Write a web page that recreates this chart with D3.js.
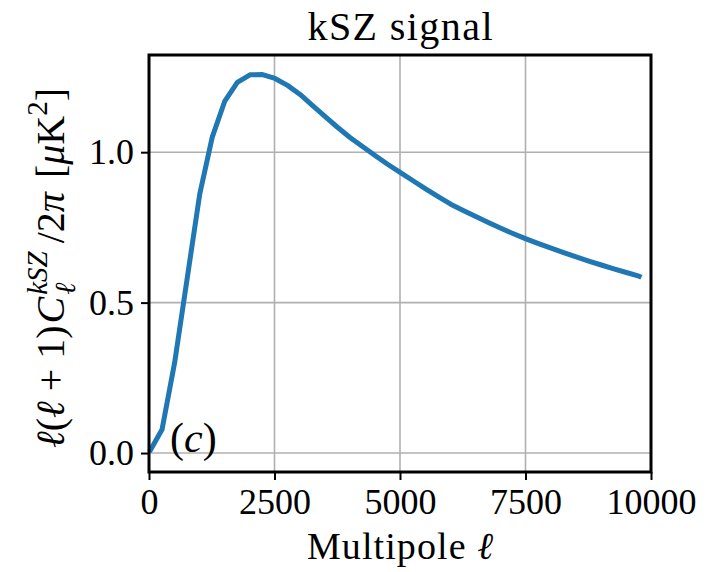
<!DOCTYPE html>
<html>
<head>
<meta charset="utf-8">
<script src="https://cdn.jsdelivr.net/npm/d3@7"></script>
<style>
  body { margin: 0; background: #fff; }
  text { font-family: "Liberation Serif", "DejaVu Serif", serif; }
</style>
</head>
<body>
<svg id="chart"></svg>
<script>
// Data
const ell = [10, 260, 510, 760, 1010, 1260, 1510, 1760, 2010, 2260, 2510, 2760, 3010, 3260, 3510,
             3760, 4010, 4260, 4510, 4760, 5010, 5260, 5510, 5760, 6010, 6260, 6510, 6760, 7010,
             7260, 7510, 7760, 8010, 8260, 8510, 8760, 9010, 9260, 9510, 9760, 9810];
const ksz = [0.004, 0.078, 0.30, 0.58, 0.86, 1.05, 1.17, 1.232, 1.257, 1.258, 1.245, 1.222, 1.192, 1.155, 1.118,
             1.082, 1.048, 1.018, 0.988, 0.959, 0.932, 0.905, 0.878, 0.852, 0.827, 0.806, 0.786, 0.766, 0.747,
             0.729, 0.712, 0.696, 0.681, 0.666, 0.652, 0.638, 0.625, 0.612, 0.600, 0.588, 0.584];
const xTicks = [0, 2500, 5000, 7500, 10000];
const yTicks = [0.0, 0.5, 1.0];

const width = 717, height = 572;
const margin = {left: 149, right: 66, top: 55, bottom: 100};

const svg = d3.select("#chart").attr("width", width).attr("height", height);

const x = d3.scaleLinear().domain([0, 10000]).range([margin.left, width - margin.right]);
const y = d3.scaleLinear().domain([-0.063, 1.323]).range([height - margin.bottom, margin.top]);

// grid
svg.append("g")
    .selectAll("line")
    .data(xTicks)
    .join("line")
    .attr("x1", d => x(d)).attr("x2", d => x(d))
    .attr("y1", y.range()[0]).attr("y2", y.range()[1])
    .attr("stroke", "#b0b0b0").attr("stroke-width", 1.6);
svg.append("g")
    .selectAll("line")
    .data(yTicks)
    .join("line")
    .attr("y1", d => y(d)).attr("y2", d => y(d))
    .attr("x1", x.range()[0]).attr("x2", x.range()[1])
    .attr("stroke", "#b0b0b0").attr("stroke-width", 1.6);

// data line
const line = d3.line().x((d, i) => x(ell[i])).y(d => y(d));
svg.append("path")
    .datum(ksz)
    .attr("d", line)
    .attr("fill", "none")
    .attr("stroke", "#1f77b4")
    .attr("stroke-width", 5)
    .attr("stroke-linejoin", "round");

// axes
const xAxis = d3.axisBottom(x).tickValues(xTicks).tickFormat(d3.format("d")).tickSizeInner(8).tickSizeOuter(0).tickPadding(6);
const yAxis = d3.axisLeft(y).tickValues(yTicks).tickFormat(d3.format(".1f")).tickSizeInner(8).tickSizeOuter(0).tickPadding(7);

const gx = svg.append("g").attr("transform", `translate(0,${y.range()[0]})`).call(xAxis);
const gy = svg.append("g").attr("transform", `translate(${x.range()[0]},0)`).call(yAxis);
[gx, gy].forEach(g => {
    g.select(".domain").remove();
    g.selectAll(".tick line").attr("stroke", "#000").attr("stroke-width", 2);
    g.selectAll(".tick text").attr("fill", "#000").style("font-size", "36px")
        .style("font-family", "'Liberation Serif', serif");
});
gx.selectAll(".tick text").attr("dy", "0.78em");

// frame
svg.append("rect")
    .attr("x", x.range()[0]).attr("y", y.range()[1])
    .attr("width", x.range()[1] - x.range()[0])
    .attr("height", y.range()[0] - y.range()[1])
    .attr("fill", "none").attr("stroke", "#000").attr("stroke-width", 3);

// title
svg.append("text")
    .attr("x", (x.range()[0] + x.range()[1]) / 2).attr("y", 40)
    .attr("text-anchor", "middle").style("font-size", "40px")
    .attr("textLength", 185).attr("lengthAdjust", "spacing")
    .text("kSZ signal");

// x label
const xl = svg.append("text")
    .attr("x", (x.range()[0] + x.range()[1]) / 2).attr("y", 559)
    .attr("text-anchor", "middle").style("font-size", "38px")
    .attr("textLength", 186).attr("lengthAdjust", "spacing");
xl.append("tspan").text("Multipole ");
xl.append("tspan").style("font-style", "italic").text("ℓ");

// y label (rotated), built left to right then centred
const yl = svg.append("text")
    .attr("text-anchor", "start").style("font-size", "40px");
yl.append("tspan").style("font-style", "italic").text("ℓ");
yl.append("tspan").text("(");
yl.append("tspan").style("font-style", "italic").text("ℓ");
yl.append("tspan").attr("dx", 10).text("+");
yl.append("tspan").attr("dx", 10).text("1)");
yl.append("tspan").attr("dx", 2).style("font-style", "italic").text("C");
const sup = yl.append("tspan").style("font-style", "italic").style("font-size", "29px")
    .attr("dx", 2).attr("dy", -17).text("kSZ");
const supW = sup.node().getComputedTextLength();
const sub = yl.append("tspan").style("font-style", "italic").style("font-size", "29px")
    .attr("dx", -supW).attr("dy", 28).text("ℓ");
const subW = sub.node().getComputedTextLength();
yl.append("tspan").attr("dx", supW - subW + 8).attr("dy", -11).text("/2");
yl.append("tspan").style("font-style", "italic").text("π");
yl.append("tspan").attr("dx", 14).text("[");
yl.append("tspan").style("font-style", "italic").text("μ");
yl.append("tspan").text("K");
yl.append("tspan").style("font-size", "29px").attr("dy", -17).text("2");
yl.append("tspan").attr("dy", 17).text("]");
const ylW = yl.node().getBBox().width;
yl.attr("transform", `translate(64,${268 + ylW / 2}) rotate(-90)`);

// panel tag
const tag = svg.append("text").attr("x", 170).attr("y", 452).style("font-size", "42px");
tag.append("tspan").text("(");
tag.append("tspan").style("font-style", "italic").text("c");
tag.append("tspan").text(")");
</script>
</body>
</html>
